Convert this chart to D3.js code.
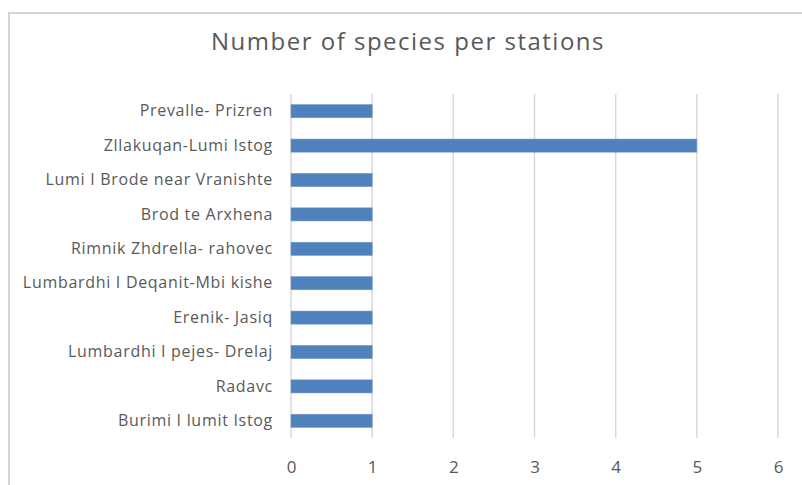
<!DOCTYPE html>
<html><head><meta charset="utf-8">
<script src="https://cdn.jsdelivr.net/npm/d3@7"></script>
<style>body{margin:0;background:#fff;}svg{display:block;font-family:"Open Sans",sans-serif;}</style>
</head><body><svg id="c" width="802" height="485"></svg>
<script>
const title = "Number of species per stations";
const categories = ["Prevalle- Prizren","Zllakuqan-Lumi Istog","Lumi I Brode near Vranishte","Brod te Arxhena","Rimnik Zhdrella- rahovec","Lumbardhi I Deqanit-Mbi kishe","Erenik- Jasiq","Lumbardhi I pejes- Drelaj","Radavc","Burimi I lumit Istog"];
const values = [1,5,1,1,1,1,1,1,1,1];
const xTicks = [0,1,2,3,4,5,6];

const svg = d3.select("#c");
svg.append("rect").attr("x",9).attr("y",13).attr("width",800).attr("height",480).attr("fill","#fff").attr("stroke","#d4d4d4").attr("stroke-width",2);

const x = d3.scaleLinear().domain([0,6]).range([291,778]);
const y = d3.scaleBand().domain(categories).range([94,438]).paddingInner(0.62).paddingOuter(0.31);

svg.append("text").attr("x",408).attr("y",50).attr("text-anchor","middle").attr("font-size",24).attr("letter-spacing",1.5).attr("fill","#595959").text(title);

const g = svg.append("g");
g.selectAll("line.grid").data(xTicks).join("line").attr("class","grid")
 .attr("x1",d=>x(d)).attr("x2",d=>x(d)).attr("y1",94).attr("y2",438)
 .attr("stroke","#d9d9d9").attr("stroke-width",1.5);

g.selectAll("rect.bar").data(values).join("rect").attr("class","bar")
 .attr("x",x(0)).attr("y",(d,i)=>y(categories[i])).attr("width",d=>x(d)-x(0)).attr("height",y.bandwidth())
 .attr("fill","#4f81bd").attr("stroke","#6d95c8").attr("stroke-width",0.6);

const xa = svg.append("g").attr("transform","translate(0,438)").call(d3.axisBottom(x).tickValues(xTicks).tickSize(0).tickPadding(0).tickFormat(d3.format("d")));
xa.select(".domain").remove();
xa.selectAll("text").attr("font-size",17).attr("fill","#595959").attr("font-family","'Open Sans',sans-serif").attr("dy",null).attr("y",35);

const ya = svg.append("g").attr("transform","translate(291,0)").call(d3.axisLeft(y).tickSize(0).tickPadding(18));
ya.select(".domain").remove();
ya.selectAll("text").attr("font-size",16).attr("letter-spacing",0.7).attr("fill","#595959").attr("font-family","'Open Sans',sans-serif");
</script></body></html>
